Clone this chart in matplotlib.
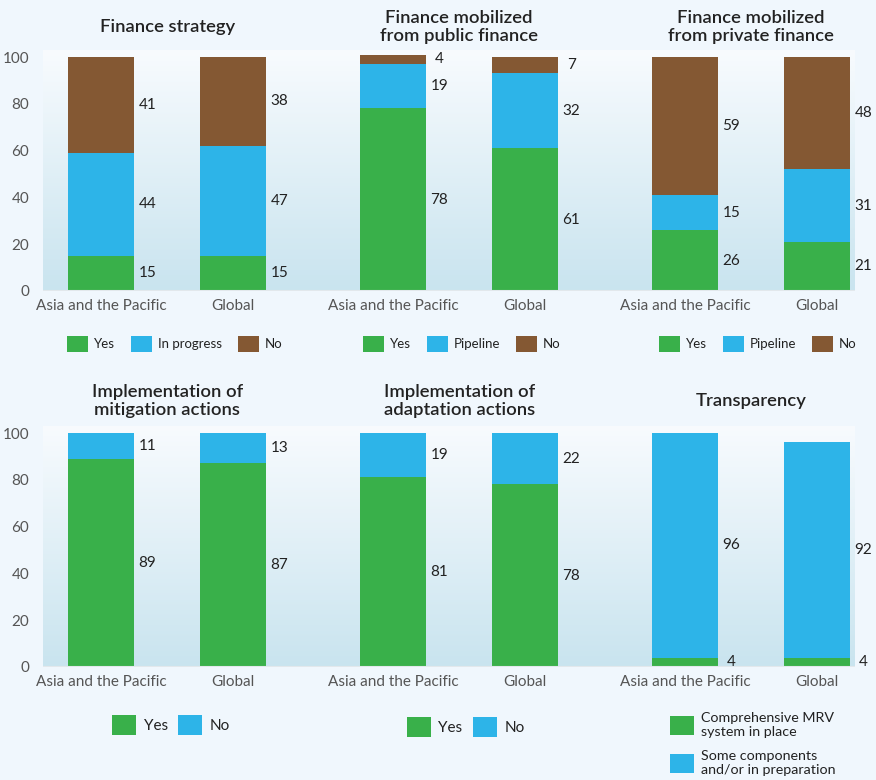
import numpy as np
import matplotlib
matplotlib.use("Agg")
import matplotlib.pyplot as plt
from matplotlib.colors import LinearSegmentedColormap
from matplotlib.patches import Patch

plt.rcParams['font.family'] = ['Lato', 'DejaVu Sans']

# ---- data ----
regions = ["Asia and the Pacific", "Global"]

strategy_yes = [15, 15]
strategy_prog = [44, 47]
strategy_no = [41, 38]

public_yes = [78, 61]
public_pipe = [19, 32]
public_no = [4, 7]

private_yes = [26, 21]
private_pipe = [15, 31]
private_no = [59, 48]

mitig_yes = [89, 87]
mitig_no = [11, 13]

adapt_yes = [81, 78]
adapt_no = [19, 22]

mrv_yes = [4, 4]
mrv_some = [96, 92]

GREEN = "#39b04a"
BLUE = "#2db4e8"
BROWN = "#845833"
BG = "#f0f7fd"

W, H = 876, 780
fig = plt.figure(figsize=(W / 100, H / 100), dpi=100)
fig.patch.set_facecolor(BG)

grad = LinearSegmentedColormap.from_list("g", ["#f8fbfe", "#c9e4ef"])
BAR_W = 0.5
X0 = -0.44
UNIT = 132.0  # pixels per x unit


def make_ax(left_px, bottom_px, width_px, first):
    ax = fig.add_axes([left_px / W, (H - bottom_px) / H, width_px / W, 241 / H])
    x1 = X0 + width_px / UNIT
    ax.set_xlim(X0, x1)
    ax.set_ylim(0, 103)
    ax.imshow(np.linspace(0, 1, 256).reshape(-1, 1), cmap=grad, aspect="auto",
              extent=(X0, x1, 0, 103), origin="upper", zorder=0)
    ax.axhline(0, color="#e2e8ec", lw=1.5, zorder=3)
    for s in ax.spines.values():
        s.set_visible(False)
    ax.set_xticks([0, 1])
    ax.set_xticklabels(regions, fontsize=11, color="#555555")
    ax.tick_params(length=0, pad=6)
    if first:
        ax.set_yticks([0, 20, 40, 60, 80, 100])
        ax.tick_params(axis="y", labelsize=11, labelcolor="#555555", pad=10)
    else:
        ax.set_yticks([])
    return ax


def stack(ax, series, colors):
    x = np.arange(len(regions))
    bottom = np.zeros(len(regions))
    for vals, c in zip(series, colors):
        vals = np.array(vals, dtype=float)
        ax.bar(x, vals, bottom=bottom, width=BAR_W, color=c, zorder=2)
        for i in range(len(x)):
            ax.text(x[i] + BAR_W / 2 + 0.1, bottom[i] + vals[i] / 2, str(int(vals[i])),
                    ha="center", va="center", fontsize=11, color="#222222")
        bottom = bottom + vals


def title(ax, txt, y_px):
    # centred over the two bars
    xfig = ax.transData.transform((0.5, 0))[0] / W
    fig.text(xfig, 1 - y_px / H, txt, ha="center", va="center", fontsize=13.3,
             fontweight="semibold", color="#222222", linespacing=1.1)


def legend(ax, labels, colors, y_px, size, fs, pad, colsp, xshift=0.0):
    handles = [Patch(facecolor=c, edgecolor="none") for c in colors]
    xc = ax.transData.transform((0.5 + xshift, 0))
    xa = ax.transAxes.inverted().transform(xc)[0]
    ya = ax.transAxes.inverted().transform((0, (H - y_px)))[1]
    ax.legend(handles, labels, ncol=len(labels), loc="center",
              bbox_to_anchor=(xa, ya), frameon=False, fontsize=fs,
              handlelength=size, handleheight=size, handletextpad=pad,
              columnspacing=colsp, borderaxespad=0, labelcolor="#222222")


# ---- top row ----
a1 = make_ax(43, 291, 292, True)
a2 = make_ax(335, 291, 292, False)
a3 = make_ax(627, 291, 228, False)

stack(a1, [strategy_yes, strategy_prog, strategy_no], [GREEN, BLUE, BROWN])
stack(a2, [public_yes, public_pipe, public_no], [GREEN, BLUE, BROWN])
stack(a3, [private_yes, private_pipe, private_no], [GREEN, BLUE, BROWN])

title(a1, "Finance strategy", 27)
title(a2, "Finance mobilized\nfrom public finance", 27)
title(a3, "Finance mobilized\nfrom private finance", 27)

legend(a1, ["Yes", "In progress", "No"], [GREEN, BLUE, BROWN], 344, 1.6, 9.5, 0.45, 1.2, 0.06)
legend(a2, ["Yes", "Pipeline", "No"], [GREEN, BLUE, BROWN], 344, 1.6, 9.5, 0.45, 1.2, 0.02)
legend(a3, ["Yes", "Pipeline", "No"], [GREEN, BLUE, BROWN], 344, 1.6, 9.5, 0.45, 1.2, 0.05)

# ---- bottom row ----
b1 = make_ax(43, 667, 292, True)
b2 = make_ax(335, 667, 292, False)
b3 = make_ax(627, 667, 228, False)

stack(b1, [mitig_yes, mitig_no], [GREEN, BLUE])
stack(b2, [adapt_yes, adapt_no], [GREEN, BLUE])
stack(b3, [mrv_yes, mrv_some], [GREEN, BLUE])

title(b1, "Implementation of\nmitigation actions", 401)
title(b2, "Implementation of\nadaptation actions", 401)
title(b3, "Transparency", 401)

legend(b1, ["Yes", "No"], [GREEN, BLUE], 725, 1.55, 11, 0.5, 0.7, 0.03)
legend(b2, ["Yes", "No"], [GREEN, BLUE], 727, 1.55, 11, 0.5, 0.7, 0.05)

handles = [Patch(facecolor=GREEN, edgecolor="none"), Patch(facecolor=BLUE, edgecolor="none")]
xa = b3.transAxes.inverted().transform((670, 0))[0]
ya = b3.transAxes.inverted().transform((0, H - 712))[1]
b3.legend(handles, ["Comprehensive MRV\nsystem in place", "Some components\nand/or in preparation"],
          loc="upper left", bbox_to_anchor=(xa, ya), frameon=False, fontsize=10.3,
          handlelength=1.7, handleheight=1.7, handletextpad=0.45, labelspacing=0.85,
          borderaxespad=0, borderpad=0, labelcolor="#222222")

fig.savefig("out.png", dpi=100, facecolor=BG)
